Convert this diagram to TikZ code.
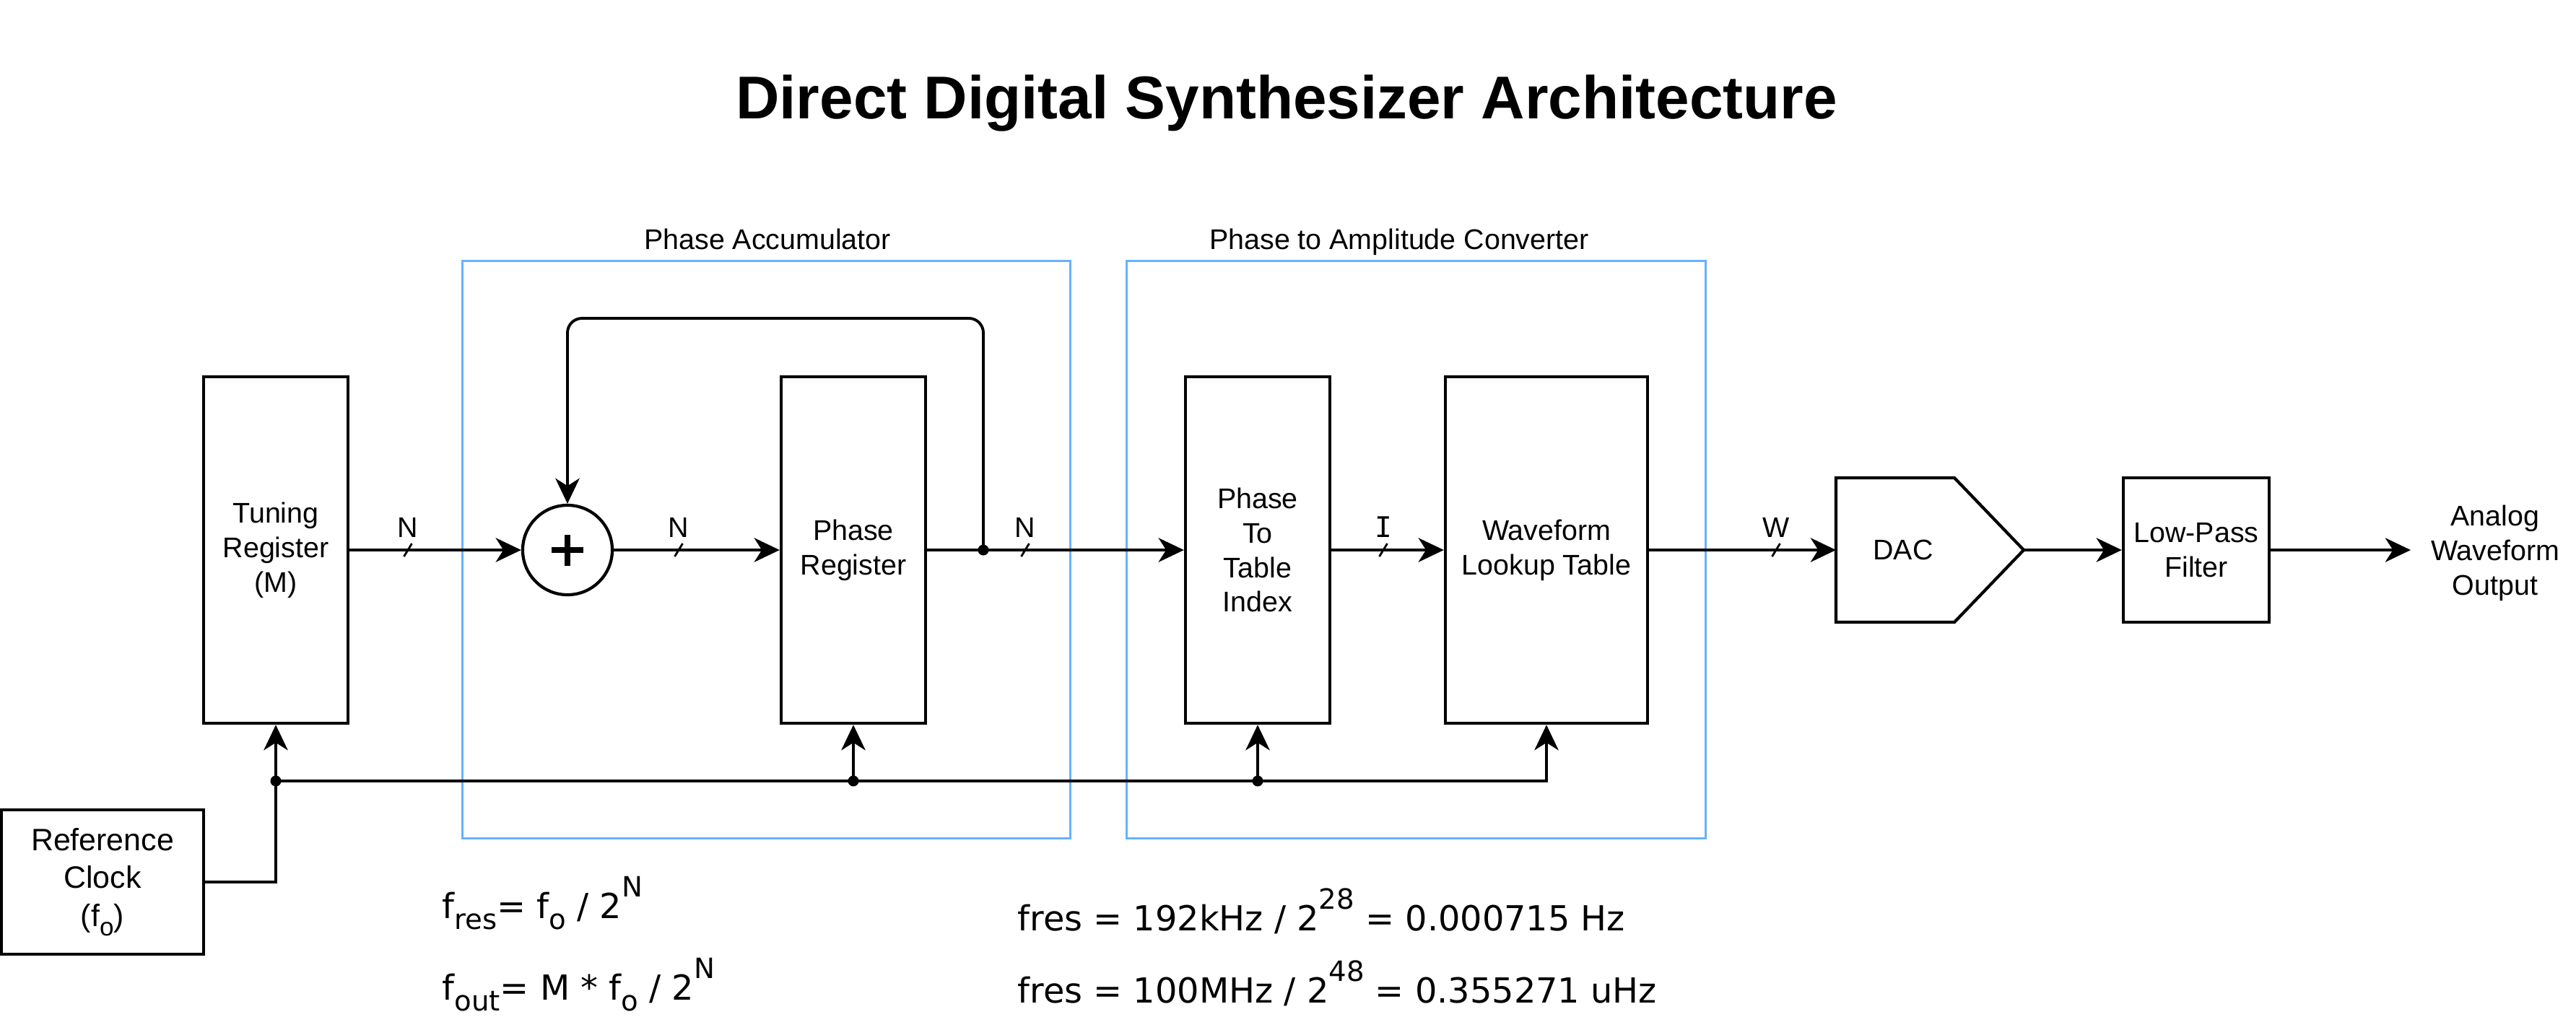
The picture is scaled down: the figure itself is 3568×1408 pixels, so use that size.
\documentclass[tikz,border=0pt]{standalone}
\usepackage{fontspec}
\setmainfont{Liberation Sans}
\newfontfamily\formfont{DejaVu Sans}
\newfontfamily\labmono{DejaVu Sans Mono}
\usetikzlibrary{arrows.meta}
\definecolor{grpblue}{RGB}{102,178,255}
\newcommand\fsub[1]{\raisebox{-0.32em}{\fontsize{11}{11}\selectfont #1}}
\newcommand\fsup[1]{\raisebox{0.62em}{\fontsize{11}{11}\selectfont #1}}
\newcommand\csub[1]{\raisebox{-0.3em}{\fontsize{10}{10}\selectfont #1}}
\begin{document}
\begin{tikzpicture}[x=0.01cm, y=-0.01cm,
  blockbox/.style={draw, line width=1.2pt, align=center, inner sep=0pt, font=\fontsize{11.2}{13.6}\selectfont},
  tallbox/.style={blockbox, minimum width=2cm, minimum height=4.8cm},
  grp/.style={draw=grpblue, line width=0.8pt, inner sep=0pt},
  wire/.style={line width=1.1pt},
  arrowline/.style={wire, -{Stealth[length=10pt,width=9.5pt,inset=3pt]}},
  jdot/.style={circle, fill, inner sep=0pt, minimum size=0.15cm},
  lbl/.style={font=\fontsize{11.2}{13.6}\selectfont, inner sep=0pt, align=center},
  bustick/.style={line width=0.8pt},
  formula/.style={font=\formfont\fontsize{13.6}{16}\selectfont, inner sep=0pt, anchor=base west},
]
\useasboundingbox (0,0) rectangle (3568,1408);

% title
\node[font=\bfseries\fontsize{23.8}{28}\selectfont, anchor=base, inner sep=0pt] (title) at (1782,164) {Direct Digital Synthesizer Architecture};

% groups
\node[grp, minimum width=8.41cm, minimum height=7.99cm] (pacc) at (1061.5,761.5) {};
\node[grp, minimum width=8.01cm, minimum height=7.99cm] (pamp) at (1961.5,761.5) {};
\node[lbl, anchor=base] (paccl) at (1063,345) {Phase Accumulator};
\node[lbl, anchor=base] (pampl) at (1938,345) {Phase to Amplitude Converter};

% blocks
\node[tallbox] (tun) at (382,762) {Tuning\\Register\\(M)};
\node[tallbox] (preg) at (1182,762) {Phase\\Register};
\node[tallbox] (pti) at (1742,762) {Phase\\To\\Table\\Index};
\node[tallbox, minimum width=2.8cm] (wlt) at (2142,762) {Waveform\\Lookup Table};
\node[blockbox, minimum width=2.02cm, minimum height=2cm] (lpf) at (3042,762) {Low-Pass\\Filter};
\node[blockbox, minimum width=2.8cm, minimum height=2cm, font=\fontsize{12.2}{15}\selectfont] (clk) at (142,1222) {Reference\\Clock\\(f\csub{o})};

% DAC
\coordinate (dacnw) at (2543,662);
\coordinate (dacne) at (2707,662);
\coordinate (dactip) at (2803,762);
\coordinate (dacse) at (2707,862);
\coordinate (dacsw) at (2543,862);
\coordinate (dacin) at (2543,762);
\draw[line width=1.2pt, line join=miter] (dacnw) -- (dacne) -- (dactip) -- (dacse) -- (dacsw) -- cycle;
\node[lbl] (dac) at (2636,762) {DAC};

% adder
\node[draw, circle, line width=1.2pt, minimum size=1.24cm, inner sep=0pt,
  path picture={
    \draw[line width=2.2pt] ([xshift=-0.215cm]path picture bounding box.center) -- ([xshift=0.215cm]path picture bounding box.center);
    \draw[line width=2.2pt] ([yshift=-0.215cm]path picture bounding box.center) -- ([yshift=0.215cm]path picture bounding box.center);
  }] (add) at (786,762) {};

% main signal path
\draw[arrowline] (tun.east) -- (add.west);
\draw[arrowline] (add.east) -- (preg.west);
\draw[arrowline] (preg.east) -- (pti.west);
\draw[arrowline] (pti.east) -- (wlt.west);
\draw[arrowline] (wlt.east) -- (dacin);
\draw[arrowline] (dactip) -- (lpf.west);
\coordinate (outend) at (3339,762);
\draw[arrowline] (lpf.east) -- (outend);
\node[lbl] (aout) at (3456,766) {Analog\\Waveform\\Output};

% feedback
\coordinate (j1) at (1362,762);
\coordinate (fbtop) at (1362,441);
\draw[arrowline, rounded corners=0.2cm] (j1) -- (fbtop) -| (add.north);
\node[jdot] (dj1) at (j1) {};

% clock distribution
\coordinate (cb0) at (382,1082);
\coordinate (cb1) at (1182,1082);
\coordinate (cb2) at (1742,1082);
\coordinate (cb3) at (2142,1082);
\draw[wire] (clk.east) -| (cb0);
\draw[arrowline] (cb0) -- (cb3) -- (wlt.south);
\draw[arrowline] (cb0) -- (tun.south);
\draw[arrowline] (cb1) -- (preg.south);
\draw[arrowline] (cb2) -- (pti.south);
\node[jdot] (dc0) at (cb0) {};
\node[jdot] (dc1) at (cb1) {};
\node[jdot] (dc2) at (cb2) {};

% bus width markers
\draw[bustick] (570.5,753) -- (559.5,771);
\node[lbl, anchor=base] (bn1) at (565,744) {N};
\draw[bustick] (945.5,753) -- (934.5,771);
\node[lbl, anchor=base] (bn2) at (940,744) {N};
\draw[bustick] (1425.5,753) -- (1414.5,771);
\node[lbl, anchor=base] (bn3) at (1420,744) {N};
\draw[bustick] (1921.5,753) -- (1910.5,771);
\node[lbl, anchor=base, font=\labmono\fontsize{11.2}{13.6}\selectfont] (bi) at (1916,744) {I};
\draw[bustick] (2465.5,753) -- (2454.5,771);
\node[lbl, anchor=base] (bw) at (2460,744) {W};

% formulas
\node[formula] (f1) at (612,1272) {f\fsub{res}= f\fsub{o} / 2\fsup{N}};
\node[formula] (f2) at (612,1385) {f\fsub{out}= M * f\fsub{o} / 2\fsup{N}};
\node[formula] (f3) at (1409,1289) {fres = 192kHz / 2\fsup{28} = 0.000715 Hz};
\node[formula] (f4) at (1409,1389) {fres = 100MHz / 2\fsup{48} = 0.355271 uHz};
\end{tikzpicture}
\end{document}
